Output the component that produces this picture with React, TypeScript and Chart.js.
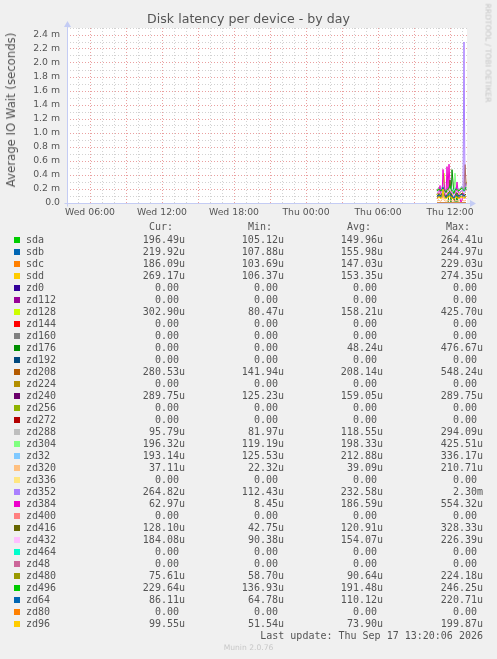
import { useEffect, useRef } from "react"
import { Chart, registerables } from "chart.js"

Chart.register(...registerables)

// sample times (Thu), 5 minute steps
const TIMES = ["10:55", "11:00", "11:05", "11:10", "11:15", "11:20", "11:25", "11:30", "11:35", "11:40",
    "11:45", "11:50", "11:55", "12:00", "12:05", "12:10", "12:15", "12:20", "12:25", "12:30",
    "12:35", "12:40", "12:45", "12:50", "12:55", "13:00", "13:05", "13:10", "13:15", "13:20"]

// values in microseconds
const sda = [120, 135, 150, 142, 128, 160, 175, 148, 132, 118, 140, 155, 170, 264.41, 150, 138, 125, 105.12, 145, 160, 152, 138, 130, 148, 165, 172, 158, 140, 150, 196.49]
const sdb = [130, 145, 160, 150, 140, 175, 190, 155, 120, 107.88, 150, 165, 180, 244.97, 160, 145, 135, 125, 150, 170, 160, 145, 140, 155, 170, 180, 165, 150, 160, 219.92]
const sdc = [125, 140, 155, 145, 130, 165, 180, 150, 128, 115, 145, 150, 165, 229.03, 148, 135, 120, 103.69, 140, 158, 150, 135, 128, 145, 160, 170, 155, 138, 148, 186.09]
const sdd = [122, 138, 152, 140, 126, 158, 172, 146, 130, 116, 138, 152, 168, 274.35, 148, 136, 122, 106.37, 142, 158, 150, 136, 128, 146, 162, 170, 156, 138, 148, 269.17]
const zeros = [0, 0, 0, 0, 0, 0, 0, 0, 0, 0, 0, 0, 0, 0, 0, 0, 0, 0, 0, 0, 0, 0, 0, 0, 0, 0, 0, 0, 0, 0]
const zd128 = [95, 120, 150, 180, 130, 110, 200, 425.7, 160, 120, 100, 140, 180, 220, 150, 130, 110, 80.47, 140, 170, 190, 150, 120, 140, 160, 180, 150, 130, 200, 302.9]
const zd176 = [0, 0, 0, 0, 0, 0, 0, 0, 0, 0, 0, 0, 150, 250, 0, 476.67, 300, 120, 0, 0, 150, 0, 0, 0, 0, 0, 0, 0, 0, 0]
const zd208 = [180, 200, 220, 195, 175, 210, 240, 205, 185, 160, 195, 215, 230, 250, 210, 190, 175, 141.94, 190, 215, 205, 190, 180, 200, 220, 230, 215, 195, 548.24, 280.53]
const zd240 = [140, 150, 165, 155, 135, 170, 180, 160, 140, 125.23, 150, 165, 175, 185, 160, 145, 135, 130, 150, 170, 160, 145, 140, 155, 165, 175, 160, 150, 165, 289.75]
const zd288 = [100, 110, 120, 105, 95, 130, 294.09, 115, 100, 90, 110, 120, 125, 140, 115, 105, 95, 81.97, 110, 125, 118, 105, 100, 112, 120, 130, 118, 105, 110, 95.79]
const zd304 = [170, 185, 200, 190, 175, 210, 230, 195, 180, 160, 190, 205, 220, 240, 200, 185, 170, 150, 425.51, 230, 200, 185, 175, 190, 205, 215, 200, 119.19, 180, 196.32]
const zd32 = [190, 205, 220, 210, 195, 230, 250, 215, 200, 180, 210, 225, 240, 336.17, 220, 205, 190, 170, 210, 230, 220, 205, 195, 210, 225, 235, 220, 125.53, 200, 193.14]
const zd320 = [30, 35, 40, 28, 25, 45, 210.71, 38, 30, 26, 32, 36, 40, 48, 35, 30, 28, 22.32, 32, 38, 34, 30, 28, 33, 37, 40, 35, 30, 33, 37.11]
const zd352 = [150, 160, 175, 165, 145, 180, 190, 165, 150, 130, 160, 175, 185, 195, 170, 155, 140, 112.43, 160, 180, 170, 155, 145, 160, 175, 185, 170, 2300, 180, 264.82]
const zd384 = [60, 90, 150, 250, 120, 80, 480, 300, 150, 90, 520, 200, 554.32, 250, 120, 80, 60, 40, 100, 150, 300, 180, 100, 60, 8.45, 40, 150, 120, 90, 62.97]
const zd416 = [100, 110, 130, 120, 95, 140, 160, 125, 105, 80, 120, 135, 150, 328.33, 130, 110, 95, 42.75, 115, 135, 125, 110, 100, 118, 130, 140, 125, 105, 115, 128.1]
const zd432 = [140, 150, 160, 150, 135, 165, 180, 155, 140, 120, 150, 160, 170, 226.39, 155, 140, 125, 90.38, 150, 165, 158, 145, 135, 150, 165, 175, 160, 140, 150, 184.08]
const zd480 = [80, 85, 95, 88, 75, 100, 224.18, 90, 80, 70, 88, 95, 100, 110, 90, 82, 75, 58.7, 85, 95, 90, 82, 78, 88, 95, 100, 92, 80, 85, 75.61]
const zd496 = [175, 185, 195, 185, 170, 200, 215, 190, 175, 150, 185, 195, 210, 246.25, 195, 180, 165, 136.93, 185, 200, 195, 180, 170, 185, 200, 210, 195, 175, 190, 229.64]
const zd64 = [95, 105, 115, 105, 90, 120, 220.71, 110, 95, 80, 105, 115, 125, 135, 110, 100, 90, 64.78, 105, 120, 112, 100, 95, 108, 118, 125, 112, 98, 105, 86.11]
const zd96 = [65, 70, 80, 72, 60, 85, 199.87, 75, 65, 55, 72, 80, 85, 95, 75, 68, 60, 51.54, 70, 80, 75, 68, 62, 72, 80, 85, 75, 65, 70, 99.55]

const DEVICES = ["sda", "sdb", "sdc", "sdd", "zd0", "zd112", "zd128", "zd144", "zd160", "zd176", "zd192",
    "zd208", "zd224", "zd240", "zd256", "zd272", "zd288", "zd304", "zd32", "zd320", "zd336", "zd352",
    "zd384", "zd400", "zd416", "zd432", "zd464", "zd48", "zd480", "zd496", "zd64", "zd80", "zd96"]
const VALUES = [sda, sdb, sdc, sdd, zeros, zeros, zd128, zeros, zeros, zd176, zeros,
    zd208, zeros, zd240, zeros, zeros, zd288, zd304, zd32, zd320, zeros, zd352,
    zd384, zeros, zd416, zd432, zeros, zeros, zd480, zd496, zd64, zeros, zd96]

const CUR = ["196.49u", "219.92u", "186.09u", "269.17u", "0.00", "0.00", "302.90u", "0.00", "0.00", "0.00", "0.00",
    "280.53u", "0.00", "289.75u", "0.00", "0.00", "95.79u", "196.32u", "193.14u", "37.11u", "0.00", "264.82u",
    "62.97u", "0.00", "128.10u", "184.08u", "0.00", "0.00", "75.61u", "229.64u", "86.11u", "0.00", "99.55u"]
const MIN = ["105.12u", "107.88u", "103.69u", "106.37u", "0.00", "0.00", "80.47u", "0.00", "0.00", "0.00", "0.00",
    "141.94u", "0.00", "125.23u", "0.00", "0.00", "81.97u", "119.19u", "125.53u", "22.32u", "0.00", "112.43u",
    "8.45u", "0.00", "42.75u", "90.38u", "0.00", "0.00", "58.70u", "136.93u", "64.78u", "0.00", "51.54u"]
const AVG = ["149.96u", "155.98u", "147.03u", "153.35u", "0.00", "0.00", "158.21u", "0.00", "0.00", "48.24u", "0.00",
    "208.14u", "0.00", "159.05u", "0.00", "0.00", "118.55u", "198.33u", "212.88u", "39.09u", "0.00", "232.58u",
    "186.59u", "0.00", "120.91u", "154.07u", "0.00", "0.00", "90.64u", "191.48u", "110.12u", "0.00", "73.90u"]
const MAX = ["264.41u", "244.97u", "229.03u", "274.35u", "0.00", "0.00", "425.70u", "0.00", "0.00", "476.67u", "0.00",
    "548.24u", "0.00", "289.75u", "0.00", "0.00", "294.09u", "425.51u", "336.17u", "210.71u", "0.00", "2.30m",
    "554.32u", "0.00", "328.33u", "226.39u", "0.00", "0.00", "224.18u", "246.25u", "220.71u", "0.00", "199.87u"]

const PALETTE = ["#00CC00", "#0066B3", "#FF8000", "#FFCC00", "#330099", "#990099", "#CCFF00", "#FF0000", "#808080",
    "#008F00", "#00487D", "#B35A00", "#B38F00", "#6B006B", "#8FB300", "#B30000", "#BEBEBE", "#80FF80", "#80C9FF",
    "#FFC080", "#FFE680", "#AA80FF", "#EE00CC", "#FF8080", "#666600", "#FFBFFF", "#00FFCC", "#CC6699", "#999900",
    "#00CC00", "#0066B3", "#FF8000", "#FFCC00"]

// hours since Wed 00:00
const X_MIN = 4 + 5 / 60
const X_MAX = 37 + 25 / 60
const X_TICK_HOURS = [6, 12, 18, 24, 30, 36]
const X_TICK_LABELS = ["Wed 06:00", "Wed 12:00", "Wed 18:00", "Thu 00:00", "Thu 06:00", "Thu 12:00"]
const Y_TICK_LABELS = ["0.0", "0.2 m", "0.4 m", "0.6 m", "0.8 m", "1.0 m", "1.2 m", "1.4 m", "1.6 m", "1.8 m", "2.0 m", "2.2 m", "2.4 m"]

const toHours = (t: string) => {
    const [h, m] = t.split(":").map(Number)
    return 24 + h + m / 60
}

const MINOR = "#d2d2d2"
const MAJOR = "#eaa0a0"
const AXIS = "#c4ccf4"
const TEXT = "#555"

const plotBackground = {
    id: "plotBackground",
    beforeDraw(chart: any) {
        const { ctx, chartArea: a } = chart
        ctx.save()
        ctx.fillStyle = "#fff"
        ctx.fillRect(a.left, a.top, a.right - a.left, a.bottom - a.top)
        ctx.restore()
    }
}

const arrowAxes = {
    id: "arrowAxes",
    afterDraw(chart: any) {
        const { ctx, chartArea: a } = chart
        const l = Math.round(a.left) + 0.5
        const b = Math.round(a.bottom) + 0.5
        ctx.save()
        ctx.strokeStyle = AXIS
        ctx.fillStyle = AXIS
        ctx.lineWidth = 1
        ctx.beginPath()
        ctx.moveTo(l - 3, b)
        ctx.lineTo(a.right + 4, b)
        ctx.moveTo(l, b + 3)
        ctx.lineTo(l, a.top - 2)
        ctx.stroke()
        ctx.beginPath()
        ctx.moveTo(a.right + 3, b - 3.5)
        ctx.lineTo(a.right + 9, b)
        ctx.lineTo(a.right + 3, b + 3.5)
        ctx.fill()
        ctx.beginPath()
        ctx.moveTo(l - 3.5, a.top - 1)
        ctx.lineTo(l, a.top - 7)
        ctx.lineTo(l + 3.5, a.top - 1)
        ctx.fill()
        ctx.restore()
    }
}

const DiskChart = () => {
    const chartRef = useRef<HTMLCanvasElement>(null)
    useEffect(() => {
        document.body.style.margin = "0"
        if (!chartRef.current)
            return
        const n = DEVICES.length
        const chart = new Chart(chartRef.current, {
            type: "line",
            data: {
                datasets: DEVICES.map((name, i) => ({
                    label: name,
                    data: VALUES[i].map((v, j) => ({ x: toHours(TIMES[j]), y: v / 1000 })),
                    borderColor: PALETTE[i],
                    backgroundColor: PALETTE[i],
                    borderWidth: 1,
                    pointRadius: 0,
                    tension: 0,
                    order: n - i,
                }))
            },
            options: {
                animation: false,
                responsive: false,
                events: [],
                layout: { padding: { left: 0, top: 28, right: 30, bottom: 436 } },
                plugins: {
                    legend: { display: false },
                    title: { display: false },
                    tooltip: { enabled: false },
                },
                scales: {
                    x: {
                        type: "linear",
                        min: X_MIN,
                        max: X_MAX,
                        afterBuildTicks: (s: any) => {
                            const t = []
                            for (let h = 5; h <= 37; h++) t.push({ value: h })
                            s.ticks = t
                        },
                        afterFit: (s: any) => { s.height = 20 },
                        grid: {
                            drawTicks: false,
                            color: (c: any) => (c.tick && c.tick.value % 3 === 0 ? MAJOR : MINOR),
                        },
                        border: { display: false, dash: [1, 2] },
                        ticks: {
                            autoSkip: false,
                            maxRotation: 0,
                            padding: 4,
                            color: TEXT,
                            font: { family: "DejaVu Sans", size: 9.3 },
                            callback: (v: any) => {
                                const k = X_TICK_HOURS.indexOf(Number(v))
                                return k >= 0 ? X_TICK_LABELS[k] : ""
                            }
                        }
                    },
                    y: {
                        min: 0,
                        max: 2.5,
                        afterBuildTicks: (s: any) => {
                            const t = []
                            for (let i = 0; i <= 25; i++) t.push({ value: i / 10 })
                            s.ticks = t
                        },
                        afterFit: (s: any) => { s.width = 67 },
                        grid: {
                            drawTicks: false,
                            color: (c: any) => (c.index % 2 === 0 && c.index < 25 ? MAJOR : MINOR),
                        },
                        border: { display: false, dash: [1, 2] },
                        ticks: {
                            autoSkip: false,
                            padding: 7,
                            color: TEXT,
                            font: { family: "DejaVu Sans", size: 9.3 },
                            callback: (_v: any, i: number) => (i % 2 === 0 && i / 2 < Y_TICK_LABELS.length ? Y_TICK_LABELS[i / 2] : "")
                        }
                    }
                }
            },
            plugins: [plotBackground, arrowAxes]
        })
        return () => {
            chart.destroy()
        }
    }, [])

    const mono: any = { position: "absolute", fontFamily: "'DejaVu Sans Mono', monospace", fontSize: 10, lineHeight: "12px", color: TEXT, whiteSpace: "pre" }
    const valueEdges = [185, 284, 383, 483]
    const headEdges = [173, 272, 371, 470]
    const heads = ["Cur:", "Min:", "Avg:", "Max:"]
    const cols = [CUR, MIN, AVG, MAX]
    const cell = (v: string) => (/[um]$/.test(v) ? v : v + " ")

    return <div style={{ position: "fixed", left: 0, top: 0, width: 497, height: 659, background: "#f0f0f0", overflow: "hidden", fontFamily: "'DejaVu Sans', sans-serif" }}>
        <canvas ref={chartRef} width={497} height={659} style={{ position: "absolute", left: 0, top: 0 }}></canvas>
        <div style={{ position: "absolute", left: 0, top: 11, width: 497, textAlign: "center", fontSize: 12.6, lineHeight: "16px", color: TEXT }}>Disk latency per device - by day</div>
        <div style={{ position: "absolute", left: 11, top: 110, transform: "translate(-50%, -50%) rotate(-90deg)", whiteSpace: "nowrap", fontSize: 11.7, color: TEXT }}>Average IO Wait (seconds)</div>
        <div style={{ position: "absolute", left: 488, top: 53, transform: "translate(-50%, -50%) rotate(90deg)", whiteSpace: "nowrap", fontSize: 7.7, color: "#c4c4c4" }}>RRDTOOL / TOBI OETIKER</div>
        {heads.map((h, k) => <div key={h} style={{ ...mono, top: 221, right: 497 - headEdges[k] }}>{h}</div>)}
        {DEVICES.map((name, i) => <div key={name}>
            <div style={{ position: "absolute", left: 14, top: 237 + 12 * i, width: 6, height: 6, background: PALETTE[i] }}></div>
            <div style={{ ...mono, left: 26, top: 234 + 12 * i }}>{name}</div>
            {cols.map((c, k) => <div key={k} style={{ ...mono, top: 234 + 12 * i, right: 497 - valueEdges[k] }}>{cell(c[i])}</div>)}
        </div>)}
        <div style={{ ...mono, top: 630, right: 497 - 483 }}>Last update: Thu Sep 17 13:20:06 2026</div>
        <div style={{ position: "absolute", left: 0, top: 643, width: 497, textAlign: "center", fontSize: 7.6, color: "#c8c8c8" }}>Munin 2.0.76</div>
    </div>
}

export default function App() {
    return <DiskChart />
}
